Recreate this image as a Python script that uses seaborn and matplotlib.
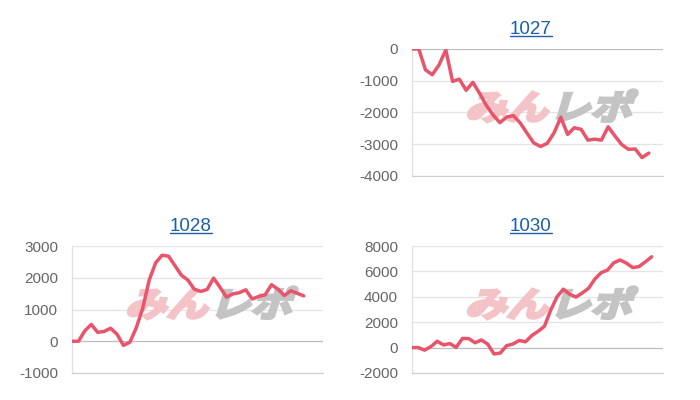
import numpy as np
import pandas as pd
import seaborn as sns
import matplotlib.pyplot as plt
from matplotlib.textpath import TextPath
from matplotlib.patches import PathPatch
from matplotlib.font_manager import FontProperties
from matplotlib.transforms import Affine2D, IdentityTransform
from matplotlib.lines import Line2D

sns.set_theme(style="white")
plt.rcParams['font.family'] = ['Liberation Sans', 'DejaVu Sans']
plt.rcParams['axes.unicode_minus'] = False

# data (one value per step)
titles = ['1027', '1028', '1030']
diff_1027 = [0, 0, -660, -810, -500, -30, -1020, -950, -1300, -1050, -1400, -1780,
             -2080, -2320, -2140, -2100, -2330, -2650, -2960, -3070, -2970, -2640,
             -2150, -2690, -2480, -2530, -2870, -2840, -2870, -2450, -2740, -3010,
             -3160, -3150, -3420, -3280]
diff_1028 = [0, 0, 330, 530, 280, 310, 410, 220, -130, -30, 430, 1050, 1930, 2470,
             2710, 2680, 2380, 2080, 1930, 1640, 1570, 1630, 1990, 1700, 1390, 1490,
             1530, 1620, 1330, 1410, 1460, 1780, 1640, 1440, 1590, 1510, 1430]
diff_1030 = [0, 0, -200, 80, 500, 210, 320, 20, 720, 710, 380, 600, 280, -500, -430,
             150, 280, 560, 460, 950, 1280, 1680, 2950, 4000, 4600, 4200, 3980, 4300,
             4670, 5400, 5900, 6100, 6680, 6900, 6650, 6300, 6380, 6750, 7150]
series = [diff_1027, diff_1028, diff_1030]
yticks = [[0, -1000, -2000, -3000, -4000],
          [3000, 2000, 1000, 0, -1000],
          [8000, 6000, 4000, 2000, 0, -2000]]
xmax = [37.1, 39.0, 39.8]

line_color = '#e9546b'
title_color = '#1a5fa8'

fig = plt.figure(figsize=(7, 4), dpi=100)
W, H = 700, 400
# axes boxes in pixels: left, top, width, height
boxes = [(412, 49, 251, 127), (72, 246, 251, 127), (412, 246, 251, 127)]

fp = FontProperties(family='Noto Sans CJK JP', weight='bold')


def watermark(ax):
    # faint "みんレポ" logo behind the line
    for txt, col, x0 in [('みん', '#f4c3c7', 0.21), ('レポ', '#c4c4c4', 0.545)]:
        p = TextPath((0, 0), txt, size=1, prop=fp)
        tr = Affine2D().skew_deg(14, 0).scale(0.165, 0.27).translate(x0, 0.445) + ax.transAxes
        ax.add_patch(PathPatch(p, transform=tr, facecolor=col, edgecolor=col,
                               linewidth=2.2, zorder=1))


axes = []
for (l, t, w, h), name, vals, ticks, xm in zip(boxes, titles, series, yticks, xmax):
    ax = fig.add_axes([l / W, 1 - (t + h) / H, w / W, h / H])
    df = pd.DataFrame({'step': np.arange(len(vals)), 'diff': vals})
    watermark(ax)
    sns.lineplot(data=df, x='step', y='diff', ax=ax, color=line_color, linewidth=2.5, zorder=3)
    ax.set_xlim(0, xm)
    ax.set_ylim(min(ticks), max(ticks))
    ax.set_yticks(ticks)
    ax.set_xticks([])
    ax.set_xlabel('')
    ax.set_ylabel('')
    for tk in ticks:
        ax.axhline(tk, color='#bdbdbd' if tk == 0 else '#e4e4e4', linewidth=0.9, zorder=0.5)
    for s in ['top', 'right']:
        ax.spines[s].set_visible(False)
    ax.spines['left'].set_color('#e0e0e0')
    ax.spines['bottom'].set_color('#d0d0d0')
    ax.spines['left'].set_linewidth(0.9)
    ax.spines['bottom'].set_linewidth(0.9)
    ax.tick_params(axis='y', length=0, pad=10, labelsize=11, labelcolor='#666666')
    ax.set_title(name, color=title_color, fontsize=13.5, x=0.474, pad=11)
    axes.append(ax)

# underline the titles like links
fig.canvas.draw()
for ax in axes:
    bb = ax.title.get_window_extent()
    fig.add_artist(Line2D([bb.x0, bb.x1], [bb.y0 + 1.5, bb.y0 + 1.5], transform=IdentityTransform(),
                          color=title_color, linewidth=1.0))

fig.savefig('out.png', dpi=100, facecolor='white')
